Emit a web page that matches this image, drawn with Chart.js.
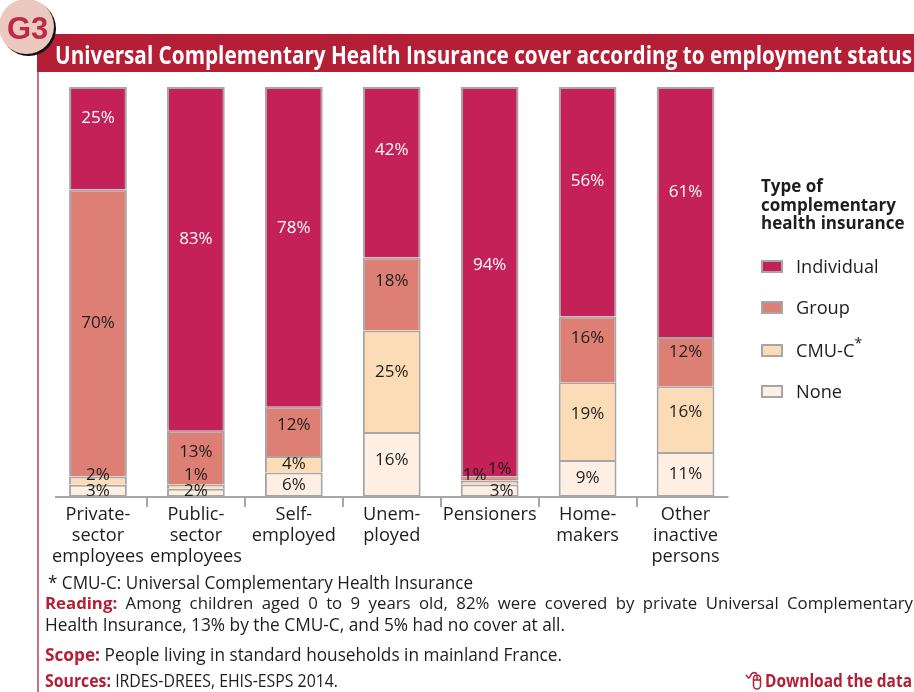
<!DOCTYPE html>
<html>
<head>
<meta charset="utf-8">
<title>G3</title>
<script src="https://cdn.jsdelivr.net/npm/chart.js@4/dist/chart.umd.min.js"></script>
<style>
    html, body { margin: 0; padding: 0; background: #fff; }
    #page { position: relative; width: 914px; height: 692px; overflow: hidden; font-family: "Open Sans", sans-serif; color: #1d1d1b; }
    #page > canvas { position: absolute; left: 0; top: 0; }
    #rule { position: absolute; left: 37px; top: 72px; width: 2px; height: 620px; background: #cf6f80; }
    #banner { position: absolute; left: 37px; top: 34px; width: 877px; height: 38px; background: #b41f35; }
    #badge { position: absolute; left: -1px; top: -1px; width: 55px; height: 55px; border-radius: 50%; background: #ecc9c0; box-shadow: 2px 2px 0 #111; }
    #badgeText { position: absolute; left: 7px; top: 11px; font: bold 31px "Liberation Sans", sans-serif; color: #bd2a44; }
    .fit { position: absolute; white-space: nowrap; transform-origin: left center; }
    #heading { left: 55px; top: 37px; font-size: 25.5px; font-weight: 700; color: #fff; }
    #legendTitle { position: absolute; left: 761px; top: 177px; font-size: 17px; line-height: 18.5px; font-weight: 700; }
    #legendBox div.item { position: absolute; left: 761px; height: 24px; line-height: 24px; font-size: 18.2px; }
    #legendBox .swatch { position: absolute; left: 0; top: 6px; width: 18px; height: 9px; border: 2px solid #a6a6a6; }
    #legendBox .name { position: absolute; left: 35px; top: 0; white-space: nowrap; }
    #legendBox sup { font-size: 14px; line-height: 0; vertical-align: 9px; }
    .note { font-size: 18px; line-height: 22px; }
    .red { color: #b41f35; font-weight: 700; }
    #reading { position: absolute; left: 45px; top: 592px; width: 868px; font-size: 16.8px; line-height: 22px; text-align: justify; text-align-last: justify; white-space: nowrap; }
    #mouse { position: absolute; left: 745px; top: 671px; }
</style>
</head>
<body>
<div id="page">
    <canvas id="chart" width="914" height="692"></canvas>
    <div id="rule"></div>
    <div id="banner"></div>
    <div id="badge"></div>
    <div id="badgeText">G3</div>
    <div id="heading" class="fit" data-w="857">Universal Complementary Health Insurance cover according to employment status</div>

    <div id="legendTitle">Type of<br>complementary<br>health insurance</div>
    <div id="legendBox"></div>

    <div class="fit note" data-w="425" style="left:48px; top:571px">* CMU-C: Universal Complementary Health Insurance</div>
    <div id="reading"><span class="red">Reading:</span> Among children aged 0 to 9 years old, 82% were covered by private Universal Complementary</div>
    <div class="fit note" data-w="520" style="left:45px; top:613px">Health Insurance, 13% by the CMU-C, and 5% had no cover at all.</div>
    <div class="fit note" data-w="517" style="left:45px; top:643px"><span class="red">Scope:</span> People living in standard households in mainland France.</div>
    <div class="fit note" data-w="293" style="left:45px; top:669px"><span class="red">Sources:</span> IRDES-DREES, EHIS-ESPS 2014.</div>
    <svg id="mouse" width="18" height="20" viewBox="0 0 18 20" fill="none" stroke="#b41f35" stroke-width="1.5">
        <path d="M1 4 L3.5 7 C5.5 7 5.5 1.5 9 1.5 L12 2.5"/>
        <rect x="8.5" y="4" width="7" height="14" rx="3.4"/>
        <path d="M8.5 9 H15.5 M12 4 V9"/>
    </svg>
    <div class="fit note red" data-w="147" style="left:765px; top:669px">Download the data</div>
</div>

<script>
// =========================
// DATA (percent of each group)
// =========================
const categories = [
    ["Private-", "sector", "employees"],
    ["Public-", "sector", "employees"],
    ["Self-", "employed"],
    ["Unem-", "ployed"],
    "Pensioners",
    ["Home-", "makers"],
    ["Other", "inactive", "persons"]
];

const individual = [25, 83, 78, 42, 94, 56, 61];
const group      = [70, 13, 12, 18,  1, 16, 12];
const cmuC       = [ 2,  1,  4, 25,  1, 19, 16];
const none       = [ 3,  2,  6, 16,  3,  9, 11];

// rounded figures do not always add up to 100, bars still fill the whole column
const totals = categories.map((c, i) => individual[i] + group[i] + cmuC[i] + none[i]);
const toShare = values => values.map((v, i) => v / totals[i] * 100);

const barBorder = "#a6a6a6";
const darkText = "#1d1d1b";

// stacked from the bottom up
const seriesList = [
    { label: "None",       raw: none,       color: "#feefe2", text: darkText },
    { label: "CMU-C",      raw: cmuC,       color: "#fbdcb6", text: darkText },
    { label: "Group",      raw: group,      color: "#de7f75", text: darkText },
    { label: "Individual", raw: individual, color: "#c32157", text: "#ffffff" }
];

// label offsets from the middle of a segment, thin segments would collide otherwise
const labelShiftY = {
    "Individual": [-20, -20, -19, -22, -16, -21, -20],
    "Group":      [-10, -6, -6, -13, -9, -11, -10],
    "CMU-C":      [-5, -11, 0, -9, -7, -7, -7],
    "None":       [0, -2, 0, -4, 0, 0, 0]
};
const labelShiftX = {
    "Group": [0, 0, 0, 0, 10, 0, 0],
    "CMU-C": [0, 0, 0, 0, -15, 0, 0],
    "None":  [0, 0, 0, 0, 12, 0, 0]
};

// =========================
// PLUGINS
// =========================
const axisLine = {
    id: "axisLine",
    afterDatasetsDraw(chart) {
        const { ctx, scales: { x }, chartArea: area } = chart;
        const step = x.getPixelForValue(1) - x.getPixelForValue(0);
        const y = area.bottom;

        ctx.save();
        ctx.strokeStyle = barBorder;
        ctx.lineWidth = 2;
        ctx.beginPath();
        ctx.moveTo(area.left + 6, y);
        ctx.lineTo(area.right - 6, y);
        for (let i = 1; i < categories.length; i++) {
            const tx = Math.round(x.getPixelForValue(i) - step / 2);
            ctx.moveTo(tx, y);
            ctx.lineTo(tx, y + 10);
        }
        ctx.stroke();
        ctx.restore();
    }
};

const valueLabels = {
    id: "valueLabels",
    afterDatasetsDraw(chart) {
        const { ctx } = chart;
        ctx.save();
        ctx.font = '17px "Open Sans", sans-serif';
        ctx.textAlign = "center";
        ctx.textBaseline = "middle";
        chart.data.datasets.forEach((ds, d) => {
            const serie = seriesList[d];
            chart.getDatasetMeta(d).data.forEach((bar, i) => {
                const dx = labelShiftX[serie.label] ? labelShiftX[serie.label][i] : 0;
                const dy = labelShiftY[serie.label][i];
                const mid = (bar.y + bar.base) / 2;
                ctx.fillStyle = serie.text;
                ctx.fillText(serie.raw[i] + "%", bar.x + dx, mid + dy);
            });
        });
        ctx.restore();
    }
};

const htmlLegend = {
    id: "htmlLegend",
    afterRender(chart) {
        const box = document.getElementById("legendBox");
        if (box.childElementCount) return;
        const items = chart.options.plugins.legend.labels.generateLabels(chart).reverse();
        const rows = [254, 295, 338, 379];
        items.forEach((item, i) => {
            const star = item.text === "CMU-C" ? "<sup>*</sup>" : "";
            const row = document.createElement("div");
            row.className = "item";
            row.style.top = rows[i] + "px";
            row.innerHTML = '<span class="swatch" style="background:' + item.fillStyle + '"></span>' +
                '<span class="name">' + item.text + star + "</span>";
            box.appendChild(row);
        });
    }
};

// =========================
// STACKED BARS
// =========================
new Chart(document.getElementById("chart"), {
    type: "bar",
    data: {
        labels: categories,
        datasets: seriesList.map((s, d) => ({
            label: s.label,
            data: toShare(s.raw),
            backgroundColor: s.color,
            borderColor: barBorder,
            borderWidth: { top: 2, left: 2, right: 2, bottom: d === 0 ? 2 : 0 },
            borderSkipped: false,
            categoryPercentage: 1,
            barPercentage: 0.59
        }))
    },
    options: {
        responsive: false,
        animation: false,
        layout: { padding: { left: 49, right: 179.5, top: 87, bottom: 0 } },
        scales: {
            x: {
                stacked: true,
                border: { display: false },
                grid: { display: false, drawTicks: false },
                afterFit(scale) { scale.height = 195; },
                ticks: {
                    color: darkText,
                    padding: 7,
                    maxRotation: 0,
                    autoSkip: false,
                    font: { family: '"Open Sans", sans-serif', size: 18.2, lineHeight: 1.16 }
                }
            },
            y: { stacked: true, display: false, min: 0, max: 100 }
        },
        plugins: {
            legend: { display: false },
            tooltip: { enabled: false }
        }
    },
    plugins: [axisLine, valueLabels, htmlLegend]
});

// squeeze the wide text lines to their column widths
document.querySelectorAll(".fit").forEach(el => {
    const k = Number(el.dataset.w) / el.getBoundingClientRect().width;
    el.style.transform = "scaleX(" + k + ")";
});
</script>
</body>
</html>
